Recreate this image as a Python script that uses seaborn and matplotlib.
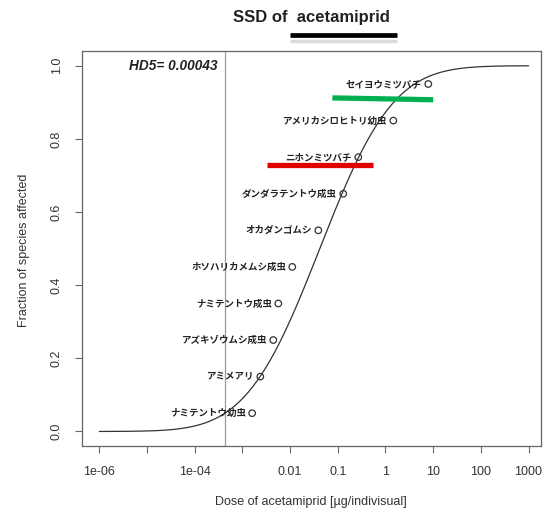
import math
import numpy as np
import pandas as pd
import matplotlib
matplotlib.use("Agg")
import matplotlib.pyplot as plt
from matplotlib.lines import Line2D
from matplotlib.ticker import FixedLocator, FixedFormatter, NullLocator
import seaborn as sns

# species sensitivity data
species = ["ナミテントウ幼虫", "アミメアリ", "アズキゾウムシ成虫", "ナミテントウ成虫",
           "ホソハリカメムシ成虫", "オカダンゴムシ", "ダンダラテントウ成虫",
           "ニホンミツバチ", "アメリカシロヒトリ幼虫", "セイヨウミツバチ"]
dose = [0.0016, 0.00237, 0.00444, 0.00565, 0.0111, 0.039, 0.130, 0.269, 1.46, 7.9]
fraction = [0.05, 0.15, 0.25, 0.35, 0.45, 0.55, 0.65, 0.75, 0.85, 0.95]
hd5 = 0.00043

tick_vals = [1e-6, 1e-5, 1e-4, 1e-3, 1e-2, 1e-1, 1, 10, 100, 1000]
tick_labels = ["1e-06", "", "1e-04", "", "0.01", "0.1", "1", "10", "100", "1000"]

# highlight bars drawn over the species labels
green_bar = ([0.077, 10.0], [0.912, 0.907])
red_bar = ([0.0033, 0.56], [0.728, 0.728])

df = pd.DataFrame({"species": species, "dose": dose, "fraction": fraction})

# fitted log-normal SSD curve (mean of log doses, sd set by HD5)
mu = np.log10(df["dose"]).mean()
sigma = (mu - math.log10(hd5)) / 1.645
curve_x = np.logspace(-6, 3, 300)
erf = np.frompyfunc(math.erf, 1, 1)
curve_y = 0.5 * (1 + erf((np.log10(curve_x) - mu) / (sigma * math.sqrt(2))).astype(float))
curve = pd.DataFrame({"dose": curve_x, "fraction": curve_y})

sns.set_style("white")
plt.rcParams["font.family"] = ["Liberation Sans", "Noto Sans CJK JP", "DejaVu Sans"]

fig = plt.figure(figsize=(5.48, 5.11), dpi=100)
ax = fig.add_axes([0.150, 0.127, 0.838, 0.773])

ax.axvline(hd5, color="#9a9a9a", lw=0.9, zorder=1)
sns.lineplot(data=curve, x="dose", y="fraction", color="#333333", lw=0.9, ax=ax, zorder=2)
sns.scatterplot(data=df, x="dose", y="fraction", marker="o", s=22,
                facecolor="none", edgecolor="#333333", linewidth=0.9, ax=ax, zorder=3)

for _, r in df.iterrows():
    ax.annotate(r["species"], (r["dose"], r["fraction"]), xytext=(-4.5, 0),
                textcoords="offset points", ha="right", va="center",
                fontsize=6.8, fontweight="bold", color="#222222",
                family=["Noto Sans CJK JP", "DejaVu Sans"])

ax.annotate(f"HD5= {hd5:.5f}", (hd5, 1.0), xytext=(-5, 0), textcoords="offset points",
            ha="right", va="center", fontsize=9.8, fontweight="bold", fontstyle="italic",
            color="#222222")

ax.plot(*green_bar, color="#00b050", lw=3.8, solid_capstyle="butt", zorder=4)
ax.plot(*red_bar, color="#e00000", lw=3.8, solid_capstyle="butt", zorder=4)

ax.set_xscale("log")
ax.set_xlim(10 ** -6.36, 10 ** 3.27)
ax.set_ylim(-0.04, 1.04)
ax.xaxis.set_major_locator(FixedLocator(tick_vals))
ax.xaxis.set_major_formatter(FixedFormatter(tick_labels))
ax.xaxis.set_minor_locator(NullLocator())
ax.set_yticks([0, 0.2, 0.4, 0.6, 0.8, 1.0])
ax.set_yticklabels(["0.0", "0.2", "0.4", "0.6", "0.8", "1.0"], rotation=90, va="center")

ax.tick_params(axis="both", direction="out", length=5, width=0.8, color="#666666",
               labelsize=9, labelcolor="#333333", pad=9, bottom=True, left=True)
for s in ax.spines.values():
    s.set_color("#666666")
    s.set_linewidth(0.9)

ax.set_xlabel("")
ax.set_ylabel("")
fig.text(0.5675, 0.018, "Dose of acetamiprid [µg/indivisual]", ha="center", va="center",
         fontsize=9, color="#333333")
fig.text(0.044, 0.51, "Fraction of species affected", ha="center", va="center",
         rotation=90, fontsize=9, color="#333333")
fig.text(0.5675, 0.965, "SSD of  acetamiprid", ha="center", va="center",
         fontsize=12, fontweight="bold", color="#222222")

# black underline under the title, with its light shadow
fig.add_artist(Line2D([0.529, 0.724], [0.9315, 0.9315], color="black", lw=3.4,
                      solid_capstyle="butt"))
fig.add_artist(Line2D([0.529, 0.724], [0.920, 0.920], color="#dddddd", lw=2.5,
                      solid_capstyle="butt"))

fig.savefig("out.png", dpi=100)
